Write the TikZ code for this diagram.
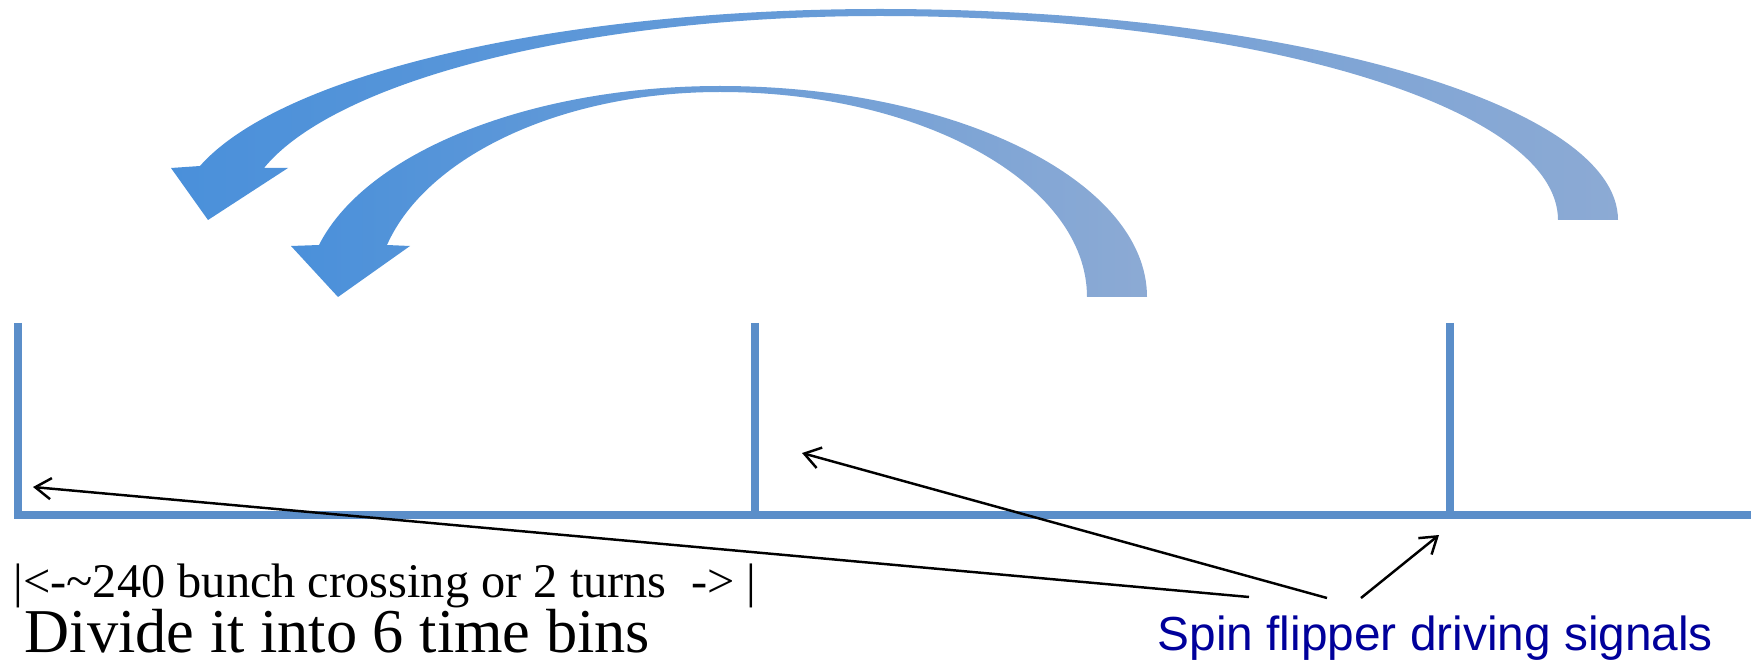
\documentclass[tikz,border=0pt]{standalone}
\usepackage{fontspec}
\setmainfont{Liberation Serif}
\newfontfamily\flipfont{Liberation Sans}
\usetikzlibrary{arrows.meta}

\definecolor{rulerblue}{RGB}{91,142,201}
\definecolor{arrowL}{RGB}{74,144,218}
\definecolor{arrowR}{RGB}{140,170,212}
\definecolor{flipnavy}{RGB}{0,0,155}

\begin{document}
\begin{tikzpicture}[x=0.01cm,y=-0.01cm,>={Straight Barb[length=4.5pt,width=6pt]},
  rule/.style={rulerblue,line width=2.4pt},
  tick/.style={rulerblue,line width=2.2pt},
  turnarrow/.style={left color=arrowL,middle color=arrowL!55!arrowR,right color=arrowR},
  call/.style={line width=0.7pt,->},
  lbl/.style={inner sep=0pt,anchor=base west},
]
\useasboundingbox (0,0) rectangle (1760,664);

% ============================================================
% Curved arrows (signal flips back)
% ============================================================
\begin{scope}
  % Outer arrow: two turns
  \shade[turnarrow] (1618,220)
    .. controls (1618,104) and (1288,9) .. (880,9)
    .. controls (561,9) and (282,73) .. (200,166)
    -- (171,168) -- (208,220) -- (288,168) -- (264,168)
    .. controls (337,79) and (590,16) .. (880,16)
    .. controls (1254,16) and (1558,107) .. (1558,220) -- cycle;

  % Inner arrow: one turn
  \shade[turnarrow] (1147,297)
    .. controls (1147,181) and (956,86) .. (720,86)
    .. controls (531,86) and (366,152) .. (319,245)
    -- (291,246) -- (338,297) -- (410,246) -- (387,245)
    .. controls (427,155) and (564,92) .. (720,92)
    .. controls (923,92) and (1087,184) .. (1087,297) -- cycle;
\end{scope}

% ============================================================
% Time line with flipper pulses
% ============================================================
\begin{scope}
  \def\yb{515}
  \def\yt{323}

  % Axis and first pulse
  \draw[rule] (18,\yt) -- (18,\yb) -- (1751,\yb);

  % Later pulses
  \foreach \x in {755,1450}
    \draw[tick] (\x,\yt) -- (\x,\yb);

  % Pointer targets on the pulses
  \coordinate (pulseA) at (33,487);
  \coordinate (pulseB) at (802,453);
  \coordinate (pulseC) at (1439,535);
\end{scope}

% ============================================================
% Labels
% ============================================================
\node[lbl] (span) at (13,597)
  {\resizebox{7.42cm}{!}{|<-\textasciitilde 240 bunch crossing or 2 turns\enspace-> |}};
\node[lbl] (bins) at (24,652)
  {\resizebox{6.25cm}{!}{Divide it into 6 time bins}};
\node[lbl,text=flipnavy,font=\flipfont] (flip) at (1157,650)
  {\resizebox{5.55cm}{!}{Spin flipper driving signals}};

% Pointer lines from the label
\coordinate (fromA) at (1249,597);
\coordinate (fromB) at (1327,598);
\coordinate (fromC) at (1361,598);
\draw[call] (fromA) -- (pulseA);
\draw[call] (fromB) -- (pulseB);
\draw[call] (fromC) -- (pulseC);

\end{tikzpicture}
\end{document}
